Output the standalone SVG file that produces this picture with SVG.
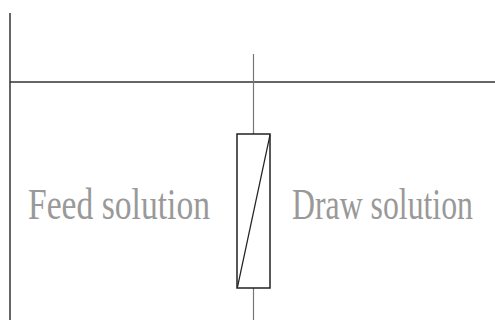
<svg xmlns="http://www.w3.org/2000/svg" width="495" height="320" viewBox="0 0 495 320">
<style>
.lbl{font-family:"Liberation Serif","Times New Roman",serif;font-size:45px;fill:#999}
</style>
<rect width="495" height="320" fill="#fff"/>
<g id="connectors" fill="none">
<line x1="10" y1="13" x2="10" y2="320" stroke="#666" stroke-width="2"/>
<line x1="10" y1="82" x2="495" y2="82" stroke="#333" stroke-width="1.5"/>
<line x1="253.5" y1="54" x2="253.5" y2="134" stroke="#777" stroke-width="1.2"/>
<line x1="253.5" y1="288" x2="253.5" y2="320" stroke="#777" stroke-width="1.2"/>
</g>
<g id="membrane">
<rect x="237" y="134" width="33" height="154" fill="#fff" stroke="#222" stroke-width="1.5"/>
<line x1="270" y1="135" x2="237.5" y2="287" stroke="#222" stroke-width="1.2"/>
</g>
<g id="feed">
<text class="lbl" transform="translate(28,219) scale(0.75,1)" x="0" y="0" textLength="242.7" lengthAdjust="spacingAndGlyphs">Feed solution</text>
</g>
<g id="draw">
<text class="lbl" transform="translate(292,219) scale(0.71,1)" x="0" y="0" textLength="254.9" lengthAdjust="spacingAndGlyphs">Draw solution</text>
</g>
</svg>
